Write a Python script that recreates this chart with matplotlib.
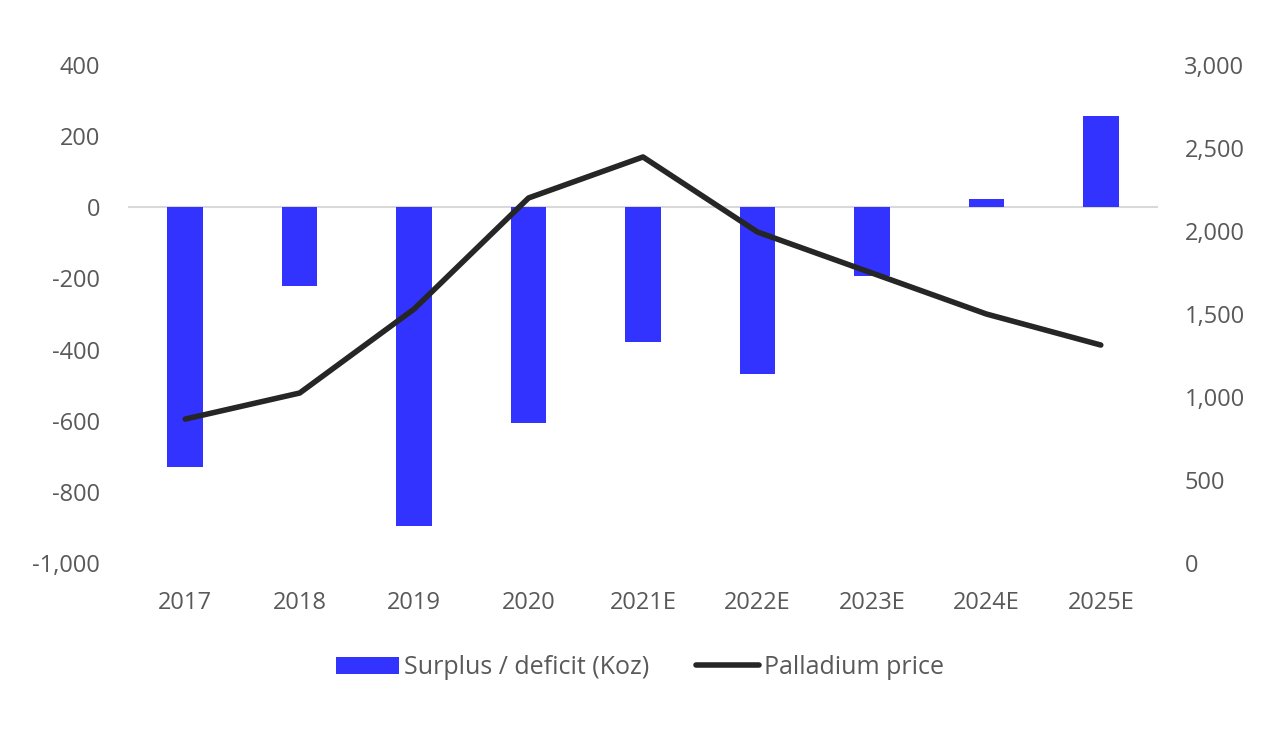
import numpy as np
import matplotlib.pyplot as plt

plt.rcParams['font.family'] = ['Open Sans', 'DejaVu Sans']

years = ["2017", "2018", "2019", "2020", "2021E", "2022E", "2023E", "2024E", "2025E"]
surplus = [-730, -222, -895, -607, -380, -470, -194, 22, 256]
price = [867, 1024, 1530, 2199, 2446, 1994, 1747, 1500, 1313]

text_col = "#595959"
bar_col = "#3333FF"
line_col = "#262626"

fig = plt.figure(figsize=(12.8, 7.37), dpi=100)
ax = fig.add_axes([0.1, 0.2361, 0.8047, 0.6757])
ax2 = ax.twinx()

x = np.arange(len(years))
ax.bar(x, surplus, width=0.31, color=bar_col, label="Surplus / deficit (Koz)", zorder=2)
ax.axhline(0, color="#d9d9d9", lw=1.5, zorder=1)
ax2.plot(x, price, color=line_col, lw=4, solid_capstyle="round",
         label="Palladium price", zorder=3)

ax.set_xlim(-0.5, len(years) - 0.5)
ax.set_ylim(-1000, 400)
ax.set_yticks(np.arange(-1000, 401, 200))
ax.set_yticklabels([f"{v:,}" for v in range(-1000, 401, 200)])
ax2.set_ylim(0, 3000)
ax2.set_yticks(np.arange(0, 3001, 500))
ax2.set_yticklabels([f"{v:,}" for v in range(0, 3001, 500)])

ax.set_xticks(x)
ax.set_xticklabels(years)

for a in (ax, ax2):
    for s in a.spines.values():
        s.set_visible(False)
    a.tick_params(length=0, labelsize=17, colors=text_col)
ax.tick_params(axis="y", pad=20)
ax.tick_params(axis="x", pad=20)
ax2.tick_params(axis="y", pad=19)

h1, l1 = ax.get_legend_handles_labels()
h2, l2 = ax2.get_legend_handles_labels()
leg = fig.legend(h1 + h2, l1 + l2, loc="center", bbox_to_anchor=(0.5, 0.094),
                 ncol=2, frameon=False, fontsize=18, handlelength=2.5,
                 handletextpad=0.2, columnspacing=1.9)
for t in leg.get_texts():
    t.set_color(text_col)

fig.savefig("out.png", dpi=100)
